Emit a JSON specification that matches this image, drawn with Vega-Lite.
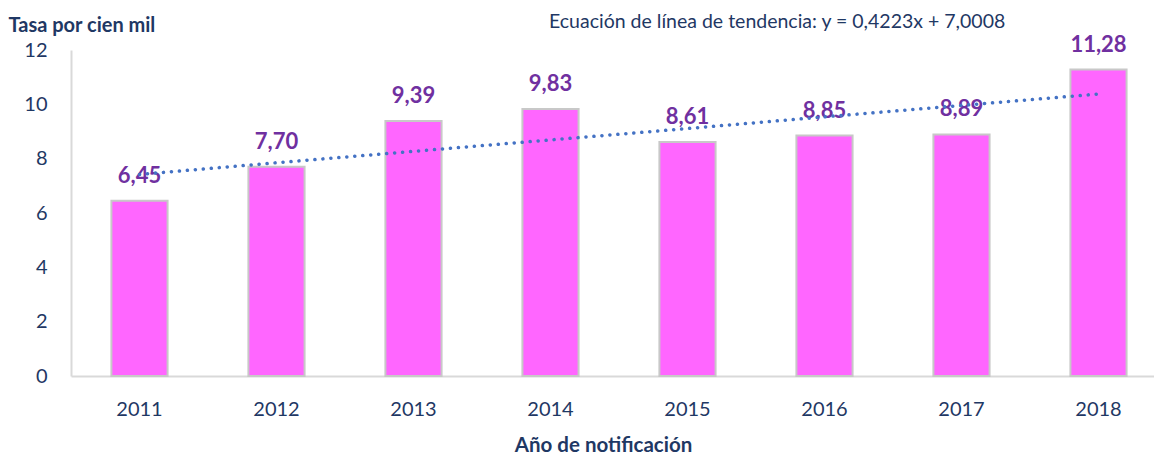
{
  "$schema": "https://vega.github.io/schema/vega-lite/v6.json",
  "autosize": "none",
  "width": 1083,
  "height": 326,
  "padding": {"left": 71, "top": 50, "right": 0, "bottom": 78},
  "background": "white",
  "config": {
    "view": {"stroke": null},
    "font": "Lato",
    "locale": {"number": {"decimal": ",", "thousands": ".", "grouping": [3], "currency": ["", ""]}}
  },
  "title": {
    "text": "Ecuación de línea de tendencia: y = 0,4223x + 7,0008",
    "anchor": "start",
    "frame": "group",
    "dx": 478,
    "offset": -17,
    "fontSize": 19.5,
    "fontWeight": "normal",
    "color": "#1F3864",
    "font": "Lato"
  },
  "data": {
    "values": [
      {"year": "2011", "rate": 6.45, "trend": 7.42},
      {"year": "2012", "rate": 7.70, "trend": 7.85},
      {"year": "2013", "rate": 9.39, "trend": 8.27},
      {"year": "2014", "rate": 9.83, "trend": 8.69},
      {"year": "2015", "rate": 8.61, "trend": 9.11},
      {"year": "2016", "rate": 8.85, "trend": 9.54},
      {"year": "2017", "rate": 8.89, "trend": 9.96},
      {"year": "2018", "rate": 11.28, "trend": 10.38}
    ]
  },
  "encoding": {
    "x": {
      "field": "year",
      "type": "ordinal",
      "scale": {"range": [0, 1096], "paddingInner": 0.59, "paddingOuter": 0.295},
      "axis": {
        "title": "Año de notificación",
        "titleFontSize": 20.5,
        "titleFontWeight": "bold",
        "titleColor": "#1F3864",
        "titlePadding": 16,
        "titleX": 532,
        "labelAngle": 0,
        "labelFontSize": 20,
        "labelColor": "#1F3864",
        "labelPadding": 23,
        "ticks": false,
        "domainColor": "#D9D9D9",
        "domainWidth": 2,
        "grid": false
      }
    }
  },
  "layer": [
    {
      "mark": {"type": "bar", "fill": "#FF66FF", "stroke": "#C8C8C8", "strokeWidth": 2},
      "encoding": {
        "y": {
          "field": "rate",
          "type": "quantitative",
          "scale": {"domain": [0, 12]},
          "axis": {
            "values": [0, 2, 4, 6, 8, 10, 12],
            "grid": false,
            "ticks": false,
            "domainColor": "#D9D9D9",
            "domainWidth": 2,
            "labelFontSize": 20,
            "labelColor": "#1F3864",
            "labelPadding": 24,
            "title": "Tasa por cien mil",
            "titleAngle": 0,
            "titleAlign": "left",
            "titleBaseline": "middle",
            "titleX": -63,
            "titleY": -25,
            "titleFontSize": 20,
            "titleFontWeight": "bold",
            "titleColor": "#1F3864"
          }
        }
      }
    },
    {
      "mark": {"type": "text", "dy": -25, "fontSize": 22, "fontWeight": "bold", "color": "#7030A0", "baseline": "middle"},
      "encoding": {
        "y": {"field": "rate", "type": "quantitative"},
        "text": {"field": "rate", "type": "quantitative", "format": ".2f"}
      }
    },
    {
      "mark": {"type": "line", "color": "#4472C4", "strokeWidth": 3.5, "strokeCap": "round", "strokeDash": [0.1, 7.9]},
      "encoding": {
        "y": {"field": "trend", "type": "quantitative"}
      }
    }
  ]
}
